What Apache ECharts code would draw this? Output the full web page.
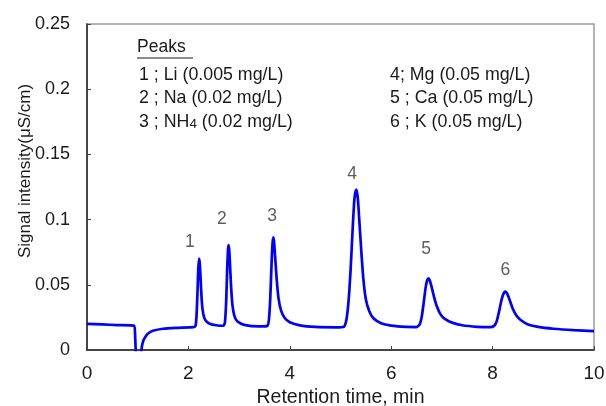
<!DOCTYPE html>
<html>
<head>
<meta charset="utf-8">
<script src="https://cdn.jsdelivr.net/npm/echarts@6/dist/echarts.min.js"></script>
<style>
  html, body { margin: 0; padding: 0; background: #fff; }
  #main { width: 606px; height: 406px; }
</style>
</head>
<body>
<div id="main"></div>
<script>
// chromatogram: [retention time (min), signal (uS/cm)]
const signal = [
  [0, 0.0200], [0.3, 0.0196], [0.6, 0.0191], [0.93, 0.0186],
  [0.95, 0.010], [0.97, -0.008], [1.0, -0.02], [1.04, -0.02], [1.06, -0.006],
  [1.08, 0.002], [1.11, 0.007], [1.15, 0.010], [1.2, 0.0125], [1.3, 0.0147],
  [1.5, 0.0163], [1.8, 0.0170], [2.1, 0.0175], [2.14, 0.0185], [2.16, 0.026],
  [2.18, 0.045], [2.195, 0.062], [2.21, 0.070], [2.225, 0.066], [2.24, 0.055],
  [2.26, 0.040], [2.28, 0.031], [2.31, 0.025], [2.35, 0.0222], [2.42, 0.0202],
  [2.55, 0.0190], [2.69, 0.0186], [2.72, 0.021], [2.745, 0.037], [2.765, 0.062],
  [2.78, 0.076], [2.79, 0.0805], [2.805, 0.077], [2.82, 0.066], [2.84, 0.050],
  [2.87, 0.034], [2.91, 0.0258], [2.97, 0.0218], [3.1, 0.0193], [3.4, 0.0181],
  [3.56, 0.0186], [3.59, 0.024], [3.615, 0.040], [3.64, 0.066], [3.66, 0.082],
  [3.675, 0.0864], [3.69, 0.083], [3.71, 0.072], [3.74, 0.055], [3.78, 0.039],
  [3.83, 0.030], [3.9, 0.0245], [4.0, 0.0213], [4.2, 0.0189], [4.5, 0.0177],
  [4.9, 0.0174], [5.07, 0.0180], [5.12, 0.024], [5.16, 0.038], [5.2, 0.062],
  [5.24, 0.093], [5.275, 0.116], [5.31, 0.123], [5.34, 0.117], [5.37, 0.100],
  [5.41, 0.076], [5.45, 0.055], [5.5, 0.039], [5.57, 0.0295], [5.65, 0.0243],
  [5.8, 0.0205], [6.0, 0.0187], [6.3, 0.0177], [6.5, 0.0176], [6.56, 0.0195],
  [6.6, 0.025], [6.64, 0.036], [6.68, 0.048], [6.71, 0.0535], [6.735, 0.055],
  [6.76, 0.0535], [6.8, 0.048], [6.85, 0.040], [6.9, 0.0335], [6.97, 0.0275],
  [7.05, 0.0240], [7.2, 0.0210], [7.4, 0.0190], [7.7, 0.0178], [7.95, 0.0175],
  [8.03, 0.0185], [8.08, 0.022], [8.13, 0.030], [8.18, 0.039], [8.22, 0.0437],
  [8.255, 0.0447], [8.29, 0.0430], [8.34, 0.038], [8.4, 0.0315], [8.47, 0.0265],
  [8.56, 0.0228], [8.7, 0.0196], [8.9, 0.0177], [9.2, 0.0163], [9.6, 0.0152],
  [10, 0.0145]
];

// peak number labels: [x, y, text]
const peakLabels = [
  [2.03, 0.083, '1'], [2.66, 0.100, '2'], [3.65, 0.103, '3'],
  [5.23, 0.135, '4'], [6.69, 0.0775, '5'], [8.25, 0.061, '6']
];

const legendLeft = ['1 ; Li (0.005 mg/L)', '2 ; Na (0.02 mg/L)', '3 ; NH{s|4} (0.02 mg/L)'];
const legendRight = ['4; Mg (0.05 mg/L)', '5 ; Ca (0.05 mg/L)', '6 ; K (0.05 mg/L)'];

const font = 'Liberation Sans, Arial, sans-serif';
const ink = '#1a1a1a';

const chart = echarts.init(document.getElementById('main'));

const rowY = [75, 98.5, 122];
const graphics = [
  {
    type: 'text', left: 137, top: 38,
    style: { text: 'Peaks', font: '17.5px ' + font, fill: ink }
  },
  {
    type: 'line', shape: { x1: 137, y1: 58, x2: 193, y2: 58 },
    style: { stroke: ink, lineWidth: 1.2 }
  },
  {
    type: 'text', x: 25, y: 171, rotation: Math.PI / 2,
    style: {
      text: 'Signal intensity(μS/cm)', font: '17px ' + font, fill: ink,
      textAlign: 'center', textVerticalAlign: 'middle'
    }
  }
];
legendLeft.forEach((t, i) => graphics.push({
  type: 'text', x: 139, y: rowY[i],
  style: {
    text: t, font: '17.8px ' + font, fill: ink, textVerticalAlign: 'middle',
    rich: { s: { fontSize: 13.5, fontFamily: font, fill: ink, verticalAlign: 'bottom' } }
  }
}));
legendRight.forEach((t, i) => graphics.push({
  type: 'text', x: 390, y: rowY[i],
  style: { text: t, font: '17.8px ' + font, fill: ink, textVerticalAlign: 'middle' }
}));

chart.setOption({
  animation: false,
  backgroundColor: '#fff',
  grid: {
    left: 87, right: 12, top: 24, bottom: 56,
    outerBoundsMode: 'none', containLabel: false,
    show: true, borderColor: '#999', borderWidth: 1.5
  },
  xAxis: {
    type: 'value', min: 0, max: 10, interval: 2,
    name: 'Retention time, min', nameLocation: 'middle', nameGap: 36,
    nameTextStyle: { fontSize: 19.5, fontFamily: font, color: ink },
    axisLine: { lineStyle: { color: '#222', width: 1.5 } },
    axisTick: { inside: true, length: 4, lineStyle: { color: '#444' } },
    axisLabel: { fontSize: 19, fontFamily: font, color: ink, margin: 14 },
    splitLine: { show: false }
  },
  yAxis: {
    type: 'value', min: 0, max: 0.25, interval: 0.05,
    axisLine: { show: true, lineStyle: { color: '#222', width: 1.5 } },
    axisTick: { show: true, inside: true, length: 4, lineStyle: { color: '#444' } },
    axisLabel: { fontSize: 18, fontFamily: font, color: ink, margin: 17 },
    splitLine: { show: false }
  },
  series: [
    {
      type: 'line', data: signal, showSymbol: false, smooth: 0.2, clip: true,
      lineStyle: { color: '#0000ff', width: 2.7 }
    },
    {
      type: 'scatter', symbolSize: 0, silent: true,
      data: peakLabels.map(p => ({ value: [p[0], p[1]], name: p[2] })),
      label: {
        show: true, position: 'inside', formatter: '{b}',
        fontSize: 17.5, fontFamily: font, color: '#333'
      }
    }
  ],
  graphic: graphics
});
</script>
</body>
</html>
